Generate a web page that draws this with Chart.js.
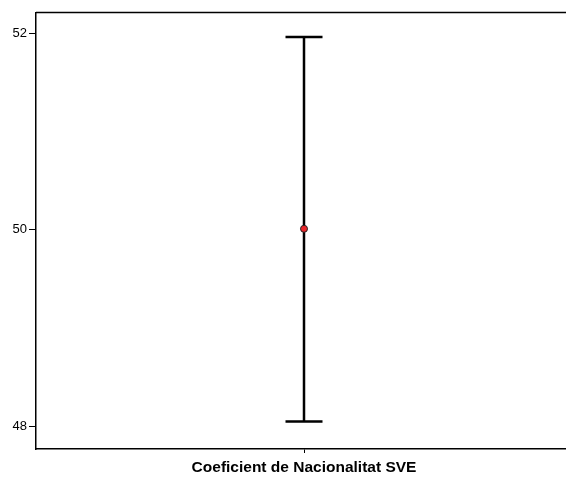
<!DOCTYPE html>
<html>
<head>
<meta charset="utf-8">
<script src="https://cdn.jsdelivr.net/npm/chart.js@4"></script>
<style>
  html, body { margin: 0; background: #fff; width: 566px; height: 479px; overflow: hidden; }
  canvas { display: block; }
</style>
</head>
<body>
<canvas id="errChart" width="590" height="479"></canvas>
<script>
// values
const categories = ['Coeficient de Nacionalitat SVE'];
const means = [50.01];
const lowerCI = [48.05];
const upperCI = [51.96];
const yTicks = [48, 50, 52];

// error bars drawn through the y scale, under the point
const errorBars = {
    id: 'errorBars',
    beforeDatasetsDraw(chart) {
        const { ctx, scales: { x, y } } = chart;
        ctx.save();
        ctx.strokeStyle = '#000';
        ctx.lineWidth = 2.5;
        means.forEach((m, i) => {
            const px = x.getPixelForValue(i);
            const top = y.getPixelForValue(upperCI[i]);
            const bot = y.getPixelForValue(lowerCI[i]);
            ctx.beginPath();
            ctx.moveTo(px, top); ctx.lineTo(px, bot);
            ctx.moveTo(px - 18.5, top); ctx.lineTo(px + 18.5, top);
            ctx.moveTo(px - 18.5, bot); ctx.lineTo(px + 18.5, bot);
            ctx.stroke();
        });
        ctx.restore();
    }
};

// top frame line
const frame = {
    id: 'frame',
    afterDraw(chart) {
        const { ctx, chartArea } = chart;
        ctx.save();
        ctx.strokeStyle = '#000';
        ctx.lineWidth = 1.5;
        ctx.beginPath();
        ctx.moveTo(chartArea.left, chartArea.top);
        ctx.lineTo(chart.width, chartArea.top);
        ctx.stroke();
        ctx.restore();
    }
};

const ctx = document.getElementById('errChart').getContext('2d');
new Chart(ctx, {
    type: 'scatter',
    data: {
        datasets: [{
            data: means.map((m, i) => ({ x: i, y: m })),
            pointRadius: 3.5,
            pointBackgroundColor: '#e8262a',
            pointBorderColor: '#222',
            pointBorderWidth: 1
        }]
    },
    options: {
        responsive: false,
        animation: false,
        layout: { padding: { top: 12.5, right: 18 } },
        plugins: {
            legend: { display: false },
            tooltip: { enabled: false }
        },
        scales: {
            x: {
                type: 'linear',
                min: -1,
                max: 1,
                afterBuildTicks: (axis) => { axis.ticks = categories.map((c, i) => ({ value: i })); },
                afterFit: (axis) => { axis.height = 30; },
                ticks: {
                    callback: (v) => categories[v],
                    color: '#000',
                    padding: 5,
                    maxRotation: 0,
                    font: { family: 'Liberation Sans', size: 15.5, weight: 'bold' }
                },
                grid: { drawOnChartArea: false, drawTicks: true, tickLength: 4, color: '#000' },
                border: { color: '#000', width: 1.5 }
            },
            y: {
                min: 47.77,
                max: 52.21,
                afterBuildTicks: (axis) => { axis.ticks = yTicks.map(v => ({ value: v })); },
                afterFit: (axis) => { axis.width = 36; },
                ticks: {
                    color: '#000',
                    padding: 2,
                    font: { family: 'Liberation Sans', size: 13 }
                },
                grid: { drawOnChartArea: false, drawTicks: true, tickLength: 7, color: '#000' },
                border: { color: '#000', width: 1.5 }
            }
        }
    },
    plugins: [errorBars, frame]
});
</script>
</body>
</html>
